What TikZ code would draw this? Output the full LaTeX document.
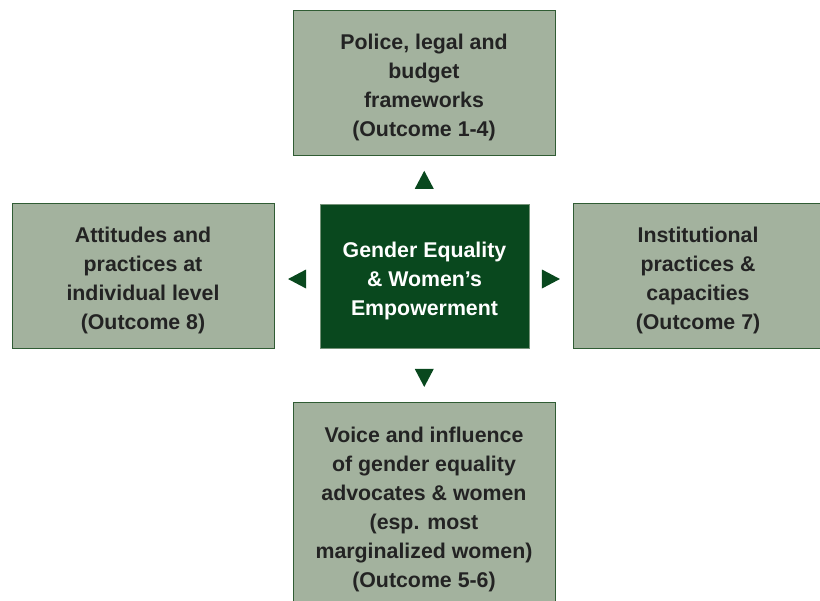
\documentclass[tikz,border=0pt]{standalone}
\usepackage{fontspec}
\setmainfont{Liberation Sans}
\usetikzlibrary{calc}
\definecolor{boxgreen}{RGB}{163,178,158}
\definecolor{edgegreen}{RGB}{48,92,52}
\definecolor{darkgreen}{RGB}{9,72,30}
\definecolor{textgray}{RGB}{35,35,35}
% pushes the first line of a box down a little
\newcommand{\topgap}{\rule{0pt}{15pt}}

\begin{document}
\begin{tikzpicture}[x=0.75pt, y=-0.75pt,
    outcome/.style={draw=edgegreen, line width=0.75pt, fill=boxgreen, text=textgray,
      align=center, inner sep=0pt, text depth=0pt,
      font=\bfseries\fontsize{16}{21.75}\selectfont},
    goal/.style={outcome, draw=boxgreen!70!darkgreen, line width=0.6pt, fill=darkgreen, text=white},
    pointer/.style={fill=darkgreen}]
    \useasboundingbox (0,0) rectangle (820,600);
    \clip (0,0) rectangle (820,600);

    % centre box
    \node [goal, minimum width=156.75pt, minimum height=108pt] (ge) at (424.5,276)
      {\topgap Gender Equality\\ \& Women’s\\ Empowerment};

    % the four outcome areas
    \node [outcome, minimum width=196.5pt, minimum height=108.75pt] (legal) at (424,83)
      {\topgap Police, legal and\\ budget\\ frameworks\\ (Outcome 1-4)};
    \node [outcome, minimum width=196.5pt, minimum height=108.75pt] (indiv) at (143,276)
      {\topgap Attitudes and\\ practices at\\ individual level\\ (Outcome 8)};
    \node [outcome, minimum width=187.5pt, minimum height=108.75pt] (inst) at (698,276)
      {\topgap Institutional\\ practices \&\\ capacities\\ (Outcome 7)};
    \node [outcome, minimum width=196.5pt, minimum height=153.75pt] (voice) at (424,504.5)
      {\topgap Voice and influence\\ of gender equality\\ advocates \& women\\ (esp. most\\ marginalized women)\\ (Outcome 5-6)};

    % triangles pointing outwards
    \coordinate (up) at ($(legal.south)!0.5!(ge.north)$);
    \coordinate (down) at ($(ge.south)!0.5!(voice.north)+(0,3)$);
    \coordinate (left) at ($(indiv.east)!0.5!(ge.west)+(0,3)$);
    \coordinate (right) at ($(ge.east)!0.5!(inst.west)+(0,3)$);
    \foreach \p/\ang in {up/90, down/270, left/180, right/0}{
      \fill [pointer, shift={(\p)}, rotate=\ang] (9,0) -- (-9,9.5) -- (-9,-9.5) -- cycle;
    }
  \end{tikzpicture}
\end{document}
